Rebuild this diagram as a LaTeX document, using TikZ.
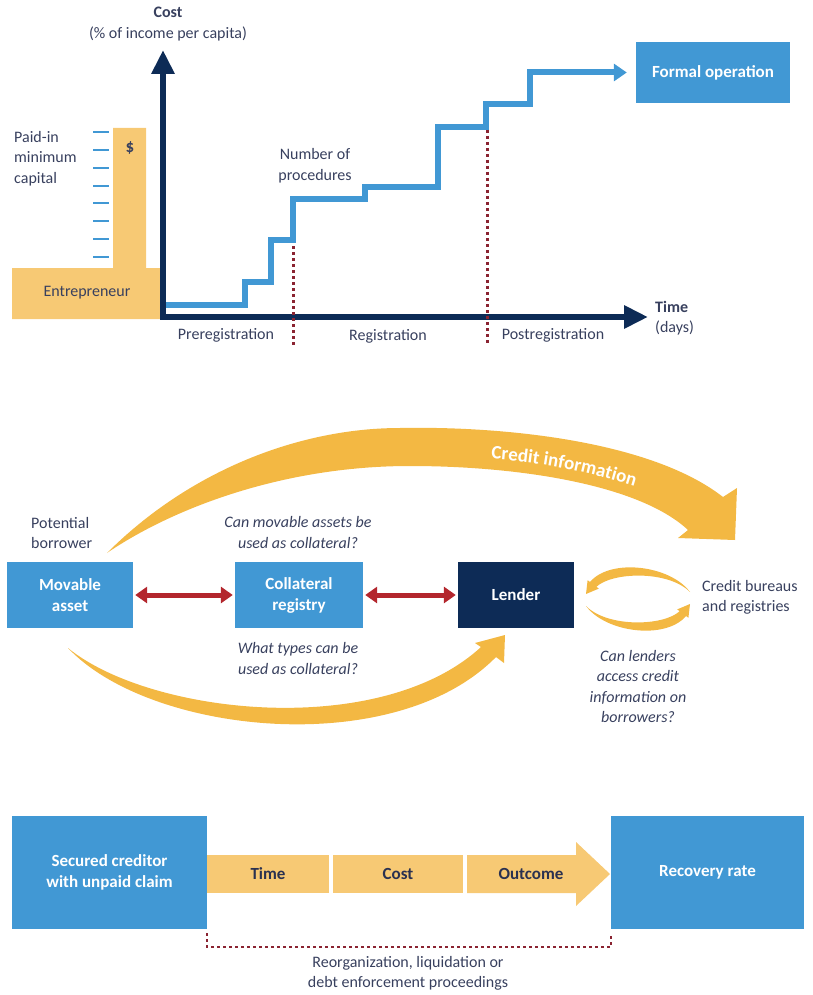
\documentclass[tikz,border=0pt]{standalone}
\usepackage{fontspec}
\setmainfont{Carlito}
\usetikzlibrary{arrows.meta,decorations.text}
\definecolor{boxblue}{HTML}{4198D4}
\definecolor{navy}{HTML}{0D2B56}
\definecolor{lorange}{HTML}{F7C974}
\definecolor{arcorange}{HTML}{F3B843}
\definecolor{darkred}{HTML}{B3262D}
\definecolor{dotred}{HTML}{8A2331}
\definecolor{txt}{HTML}{38405E}
\definecolor{bartxt}{HTML}{2A3150}
\begin{document}
\begin{tikzpicture}[x=1pt,y=-1pt,
  every node/.style={font=\fontsize{16}{20.5}\selectfont, text=txt, inner sep=0pt},
  bluebox/.style={fill=boxblue, text=white, font=\fontsize{17}{21}\selectfont\bfseries, align=center},
  navybox/.style={fill=navy, text=white, font=\fontsize{17}{21}\selectfont\bfseries, align=center},
  barbox/.style={fill=lorange, text=bartxt, font=\fontsize{17}{21}\selectfont\bfseries, minimum height=38pt},
  tickmark/.style={draw=boxblue, line width=2pt},
  stepline/.style={draw=boxblue, line width=6pt, line join=miter, -{Triangle[length=13pt,width=17pt]}},
  axisline/.style={draw=navy, line width=6.5pt, line join=miter, {Triangle[length=24pt,width=22pt]}-{Triangle[length=24pt,width=22pt]}},
  dotline/.style={draw=dotred, line width=3pt, dash pattern=on 3pt off 3pt},
  redarr/.style={draw=darkred, line width=5pt, {Triangle[length=12pt,width=16pt]}-{Triangle[length=12pt,width=16pt]}, shorten <=2pt, shorten >=2pt},
  ital/.style={font=\fontsize{16}{20.5}\selectfont\itshape, align=center}
]
\useasboundingbox (0,0) rectangle (813,995);

% ---------- Top: start-up chart ----------
\fill[lorange] (12,268) -- (113,268) -- (113,128) -- (146,128) -- (146,268) -- (163,268) -- (163,319) -- (12,319) -- cycle;
\node (ent) at (87,293) {Entrepreneur};
\node[font=\fontsize{17}{20}\selectfont\bfseries] (dollar) at (130,148) {\$};
\foreach \i in {0,...,7} \draw[tickmark] (93,{132+17.86*\i}) -- (109,{132+17.86*\i});
\node[anchor=west, align=left] (paid) at (14,158.5) {Paid-in\\minimum\\capital};

\node[bluebox, minimum width=154pt, minimum height=61pt] (formal) at (713,72.5) {Formal operation};

\draw[stepline, shorten >=9pt] (163,305) -- (245,305) -- (245,282) -- (271,282) -- (271,240) -- (293,240) -- (293,199) -- (365,199) -- (365,187) -- (438,187) -- (438,127) -- (486,127) -- (486,104) -- (530,104) |- (formal.west);

\draw[axisline] (163,50) -- (163,317) -- (648,317);

\draw[dotline] (293,246) -- (293,345);
\draw[dotline] (487,130) -- (487,343);

\node[align=center] (cost) at (168,24) {\textbf{Cost}\\(\% of income per capita)};
\node[anchor=west, align=left] (time) at (655,318) {\textbf{Time}\\(days)};
\node[align=center] (nproc) at (315,165.5) {Number of\\procedures};
\node (prereg) at (226,335) {Preregistration};
\node (reg) at (388,336) {Registration};
\node (postreg) at (553,335) {Postregistration};

% ---------- Middle: credit ----------
\fill[arcorange] (107,553) .. controls (190,470) and (300,428) .. (400,428)
  .. controls (500,426) and (650,440) .. (723,497) -- (737,488) -- (735,540) -- (678,538) -- (688,530)
  .. controls (640,485) and (520,466) .. (410,466) .. controls (280,466) and (170,510) .. (107,553) -- cycle;
\path[decorate, decoration={text along path, text color=white, text align=left,
  text={|\fontsize{19}{22}\selectfont\bfseries|Credit information}}]
  (491,459) .. controls (550,463) and (605,474) .. (690,505);

\fill[arcorange] (68,648) .. controls (150,715) and (380,740) .. (481,647) -- (475,643) -- (505,635) -- (504,663) -- (496,657)
  .. controls (395,760) and (150,735) .. (68,648) -- cycle;

\fill[arcorange] (690,592) .. controls (670,565) and (610,558) .. (590,582) -- (587.6,580.2) -- (586,594) -- (598.8,588.6) -- (596.4,586.8)
  .. controls (612,572) and (668,570) .. (690,592) -- cycle;
\begin{scope}[rotate around={180:(638,599)}]
\fill[arcorange] (690,592) .. controls (670,565) and (610,558) .. (590,582) -- (587.6,580.2) -- (586,594) -- (598.8,588.6) -- (596.4,586.8)
  .. controls (612,572) and (668,570) .. (690,592) -- cycle;
\end{scope}

\node[bluebox, minimum width=126pt, minimum height=66pt] (mov) at (70,595) {Movable\\asset};
\node[bluebox, minimum width=128pt, minimum height=66pt] (col) at (299,595) {Collateral\\registry};
\node[navybox, minimum width=116pt, minimum height=66pt] (lender) at (516,595) {Lender};
\draw[redarr] (mov.east) -- (col.west);
\draw[redarr] (col.east) -- (lender.west);

\node[anchor=west, align=left] (potential) at (31,533) {Potential\\borrower};
\node[ital] (q1) at (298,532.5) {Can movable assets be\\used as collateral?};
\node[ital] (q2) at (298,658.5) {What types can be\\used as collateral?};
\node[anchor=west, align=left] (bureaus) at (702,597.5) {Credit bureaus\\and registries};
\node[ital] (q3) at (638,686.5) {Can lenders\\access credit\\information on\\borrowers?};

% ---------- Bottom: insolvency ----------
\node[bluebox, minimum width=195pt, minimum height=113pt] (cred) at (109.5,872.5) {Secured creditor\\with unpaid claim};
\node[bluebox, minimum width=193pt, minimum height=113pt] (rec) at (707.5,872.5) {Recovery rate};
\node[barbox, minimum width=122pt] (tbox) at (268,874) {Time};
\node[barbox, minimum width=130pt] (cbox) at (398,874) {Cost};
\fill[lorange] (467,855) -- (576,855) -- (576,842) -- (610,874) -- (576,906) -- (576,893) -- (467,893) -- cycle;
\node[text=bartxt, font=\fontsize{17}{21}\selectfont\bfseries] (obox) at (531,874) {Outcome};
\draw[draw=dotred, line width=2.5pt, dash pattern=on 3pt off 3pt] ([yshift=-4pt]cred.south east) -- ++(0,14) -| ([yshift=-4pt]rec.south west);
\node[align=center] (proc) at (408,973.5) {Reorganization, liquidation or\\debt enforcement proceedings};
\end{tikzpicture}
\end{document}
